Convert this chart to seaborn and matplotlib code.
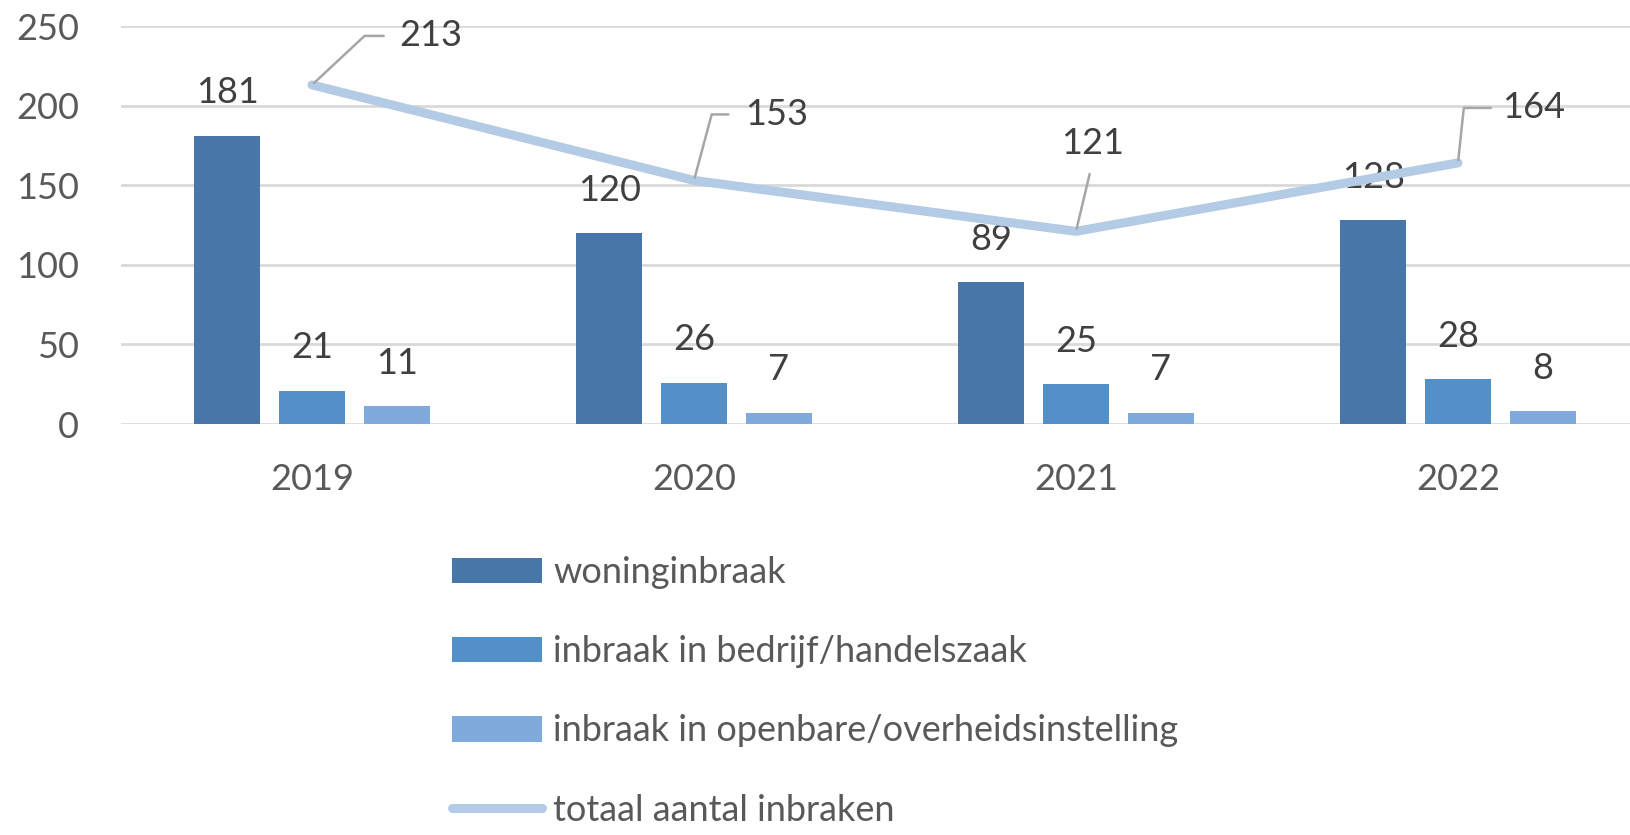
import numpy as np
import pandas as pd
import matplotlib
matplotlib.use("Agg")
import matplotlib.pyplot as plt
import seaborn as sns
from matplotlib.patches import Patch
from matplotlib.lines import Line2D

years = ["2019", "2020", "2021", "2022"]
woninginbraak = [181, 120, 89, 128]
bedrijf = [21, 26, 25, 28]
openbaar = [11, 7, 7, 8]
totaal = [213, 153, 121, 164]
series_names = ["woninginbraak", "inbraak in bedrijf/handelszaak",
                "inbraak in openbare/overheidsinstelling"]
line_name = "totaal aantal inbraken"
yticks = [0, 50, 100, 150, 200, 250]

bar_colors = ["#4677A8", "#5390C8", "#7FAADB"]
line_color = "#B4CBE6"
label_color = "#404040"
tick_color = "#595959"
grid_color = "#D9D9D9"

df = pd.DataFrame({
    "jaar": years * 3,
    "serie": [series_names[0]] * 4 + [series_names[1]] * 4 + [series_names[2]] * 4,
    "aantal": woninginbraak + bedrijf + openbaar,
})

sns.set_theme(style="white")
plt.rcParams["font.family"] = ["Lato", "DejaVu Sans"]

fig = plt.figure(figsize=(16.31, 8.35), dpi=100)
ax = fig.add_axes([121 / 1631, 411 / 835, 1528 / 1631, 398 / 835])

sns.barplot(data=df, x="jaar", y="aantal", hue="serie", order=years,
            hue_order=series_names, palette=bar_colors, width=0.667, gap=0.224,
            saturation=1, ax=ax, legend=False, linewidth=0)

for cont in ax.containers:
    ax.bar_label(cont, padding=19, fontsize=26, color=label_color)

xpos = np.arange(len(years))
sns.lineplot(x=xpos, y=totaal, ax=ax, color=line_color, linewidth=6.5,
             solid_capstyle="round", zorder=3)

# data labels with leader lines for the total line
offsets = [(119, 49), (83, 66), (17, 88), (76, 55)]
conns = ["angle,angleA=0,angleB=43,rad=0", "angle,angleA=0,angleB=75,rad=0",
         "arc3,rad=0", "angle,angleA=0,angleB=84,rad=0"]
shrinkA = [9, 10, 8, 6]
for i, (v, off, cs, sa) in enumerate(zip(totaal, offsets, conns, shrinkA)):
    relpos = (0.5, 0.0) if cs.startswith("arc3") else (0.0, 0.5)
    ax.annotate(str(v), xy=(xpos[i], v), xytext=off, textcoords="offset pixels",
                ha="center", va="center", fontsize=26, color=label_color,
                arrowprops=dict(arrowstyle="-", color="#A6A6A6", lw=1.8,
                                connectionstyle=cs, shrinkA=sa, shrinkB=2,
                                relpos=relpos),
                zorder=5)

ax.set_ylim(0, 250)
ax.set_xlim(-0.5, 3.5)
ax.set_yticks(yticks)
ax.set_xlabel("")
ax.set_ylabel("")
ax.grid(axis="y", color=grid_color, linewidth=2)
ax.set_axisbelow(True)
for s in ax.spines.values():
    s.set_visible(False)
ax.tick_params(axis="both", length=0, labelsize=26, colors=tick_color)
ax.tick_params(axis="y", pad=30)
ax.tick_params(axis="x", pad=28)

handles = [Patch(facecolor=c, edgecolor="none") for c in bar_colors]
handles.append(Line2D([0], [0], color=line_color, linewidth=6.5, solid_capstyle="round"))
leg = fig.legend(handles, series_names + [line_name], loc="upper left",
                 bbox_to_anchor=(452 / 1631, 1 - 556 / 835), frameon=False,
                 fontsize=26, handlelength=2.5, handleheight=0.72,
                 handletextpad=0.3, labelspacing=1.28, borderpad=0,
                 borderaxespad=0)
for t in leg.get_texts():
    t.set_color(tick_color)

fig.savefig("out.png", dpi=100)
